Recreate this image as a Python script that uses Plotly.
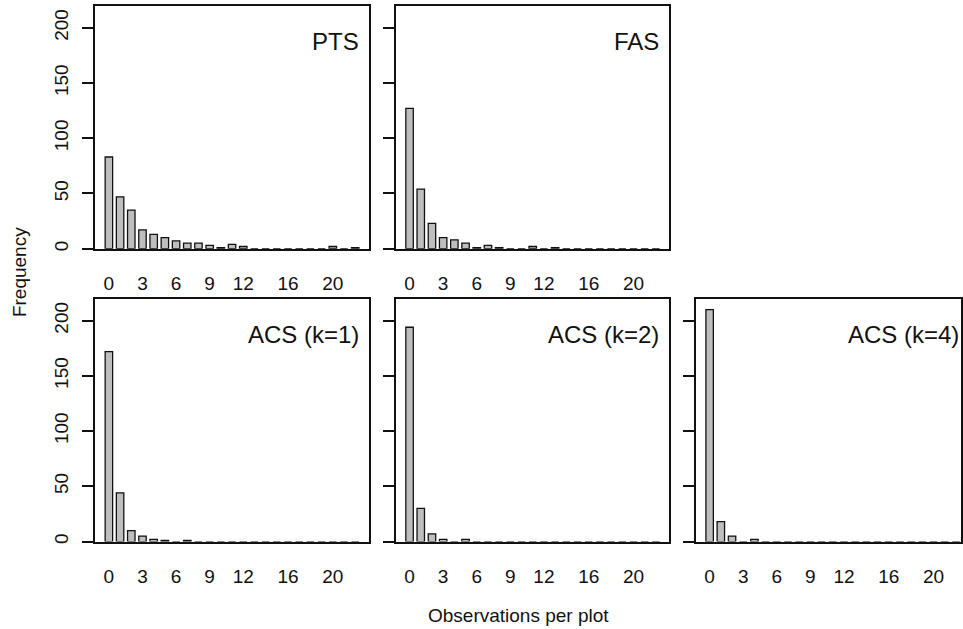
import plotly.graph_objects as go

W, H = 963, 629

# ---- data ----
categories = list(range(23))
x_tick_vals = [0, 3, 6, 9, 12, 16, 20]
x_tick_text = ["0", "3", "6", "9", "12", "16", "20"]
y_tick_vals = [0, 50, 100, 150, 200]

pts = [83, 47, 35, 17, 13, 10, 7, 5, 5, 3, 1, 4, 2, 0, 0, 0, 0, 0, 0, 0, 2, 0, 1]
fas = [127, 54, 23, 10, 8, 5, 1, 3, 1, 0, 0, 2, 0, 1, 0, 0, 0, 0, 0, 0, 0, 0, 0]
acs_k1 = [172, 44, 10, 5, 2, 1, 0, 1, 0, 0, 0, 0, 0, 0, 0, 0, 0, 0, 0, 0, 0, 0, 0]
acs_k2 = [194, 30, 7, 2, 0, 2, 0, 0, 0, 0, 0, 0, 0, 0, 0, 0, 0, 0, 0, 0, 0, 0, 0]
acs_k4 = [210, 18, 5, 0, 2, 0, 0, 0, 0, 0, 0, 0, 0, 0, 0, 0, 0, 0, 0, 0, 0, 0, 0]

titles = ["PTS", "FAS", "ACS (k=1)", "ACS (k=2)", "ACS (k=4)"]
series = [pts, fas, acs_k1, acs_k2, acs_k4]

# ---- layout (pixels) ----
cols_px = [(95.2, 369.8), (396.5, 670.5), (697.2, 963.0)]
rows_px = [(5.7, 249.5), (299.5, 543.3)]  # (top, bottom)
px_per_unit = 11.22
x0 = -1.24
panel_pos = [(0, 0), (0, 1), (1, 0), (1, 1), (1, 2)]

FONT = "Liberation Sans, Arial, sans-serif"
LW = 1.5
INK = "#111111"

fig = go.Figure()
annotations = []
for i, (name, vals, (r, c)) in enumerate(zip(titles, series, panel_pos)):
    n = i + 1
    xl, xr = cols_px[c]
    yt, yb = rows_px[r]
    fig.add_trace(go.Bar(
        x=categories, y=vals,
        marker=dict(color="#bebebe", line=dict(color=INK, width=1.3)),
        xaxis=f"x{n}", yaxis=f"y{n}", showlegend=False, hoverinfo="x+y",
    ))
    span = (xr - xl) / px_per_unit
    fig.update_layout(**{
        f"xaxis{n}": dict(
            domain=[xl / W, xr / W], range=[x0, x0 + span], anchor=f"y{n}",
            tickmode="array", tickvals=x_tick_vals, ticktext=x_tick_text,
            showline=True, mirror=True, linecolor=INK, linewidth=LW,
            showgrid=False, zeroline=False, ticks="",
            ticklabelstandoff=17,
            tickfont=dict(family=FONT, size=19, color=INK),
            fixedrange=True,
        ),
        f"yaxis{n}": dict(
            domain=[1 - yb / H, 1 - yt / H], range=[0, 220], anchor=f"x{n}",
            tickmode="array", tickvals=y_tick_vals,
            showline=True, mirror=True, linecolor=INK, linewidth=LW,
            showgrid=False, zeroline=False,
            ticks="outside", ticklen=11, tickwidth=LW, tickcolor=INK,
            showticklabels=(c == 0), tickangle=-90,
            ticklabelstandoff=7,
            tickfont=dict(family=FONT, size=19, color=INK),
            fixedrange=True,
        ),
    })
    annotations.append(dict(
        text=name, xref="paper", yref="paper",
        x=(xr - 8.5) / W if c < 2 else 962.5 / W, y=1 - (yt + 36) / H,
        xanchor="right", yanchor="middle", showarrow=False,
        font=dict(family=FONT, size=24, color=INK),
    ))

annotations.append(dict(
    text="Frequency", xref="paper", yref="paper", x=19 / W, y=1 - 273 / H,
    textangle=-90, xanchor="center", yanchor="middle", showarrow=False,
    font=dict(family=FONT, size=19, color=INK),
))
annotations.append(dict(
    text="Observations per plot", xref="paper", yref="paper", x=520 / W, y=1 - 617 / H,
    xanchor="center", yanchor="middle", showarrow=False,
    font=dict(family=FONT, size=19, color=INK),
))

fig.update_layout(
    width=W, height=H, margin=dict(l=0, r=0, t=0, b=0),
    paper_bgcolor="white", plot_bgcolor="white",
    bargap=1 / 3, annotations=annotations,
)

fig.write_html("out.html")
